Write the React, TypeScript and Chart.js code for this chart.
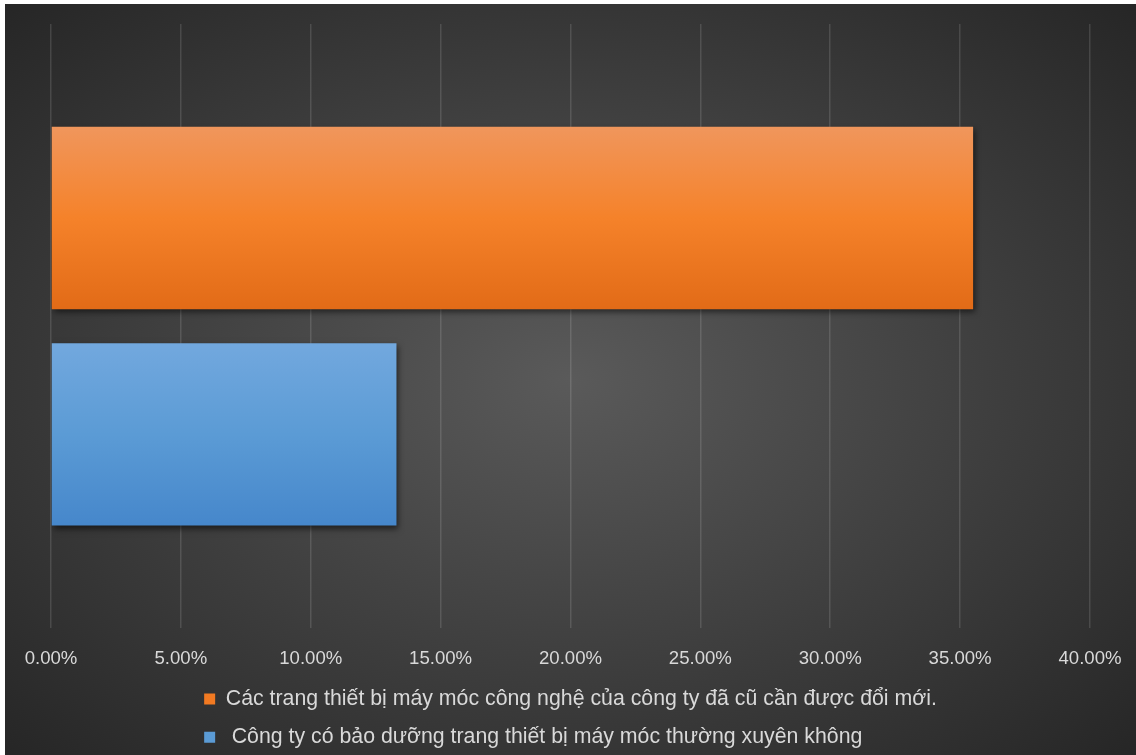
import React, { useEffect, useRef } from "react";
import { Chart, registerables } from "chart.js";

Chart.register(...registerables);

const categories = [""];
const seriesLabels = [
  "Các trang thiết bị máy móc công nghệ của công ty đã cũ cần được đổi mới.",
  " Công ty có bảo dưỡng trang thiết bị máy móc thường xuyên không",
];
const renewValues = [0.355];
const maintainValues = [0.133];
const tickValues = [0, 0.05, 0.1, 0.15, 0.2, 0.25, 0.3, 0.35, 0.4];
const legendColors = ["#f27a22", "#5b9bd5"];
const orangeStops = ["#f0965c", "#f5822a", "#e26b17"];
const blueStops = ["#72a8de", "#5b9bd5", "#4687cb"];

const CAT_PCT = 0.716;
const BAR_PCT = 0.843;

function barGradient(c: any, stops: string[]) {
  const chart = c.chart;
  const yScale = chart.scales && chart.scales.y;
  if (!chart.chartArea || !yScale || c.dataIndex === undefined) return stops[1];
  const center = yScale.getPixelForValue(c.dataIndex);
  const band = yScale.height / categories.length;
  const slot = (band * CAT_PCT) / 2;
  const barH = slot * BAR_PCT;
  const top = center - slot + c.datasetIndex * slot + (slot - barH) / 2;
  const g = chart.ctx.createLinearGradient(0, top, 0, top + barH);
  g.addColorStop(0, stops[0]);
  g.addColorStop(0.5, stops[1]);
  g.addColorStop(1, stops[2]);
  return g;
}

const shadowPlugin = {
  id: "barShadow",
  beforeDatasetsDraw(chart: any) {
    const ctx = chart.ctx;
    ctx.save();
    ctx.shadowColor = "rgba(0,0,0,0.55)";
    ctx.shadowBlur = 6;
    ctx.shadowOffsetX = 2;
    ctx.shadowOffsetY = 3;
  },
  afterDatasetsDraw(chart: any) {
    chart.ctx.restore();
  },
};

const legendAlignPlugin = {
  id: "legendAlign",
  beforeDraw(chart: any) {
    const lg = chart.legend;
    if (lg && lg.lineWidths && lg.lineWidths.length > 1) {
      const m = Math.max(...lg.lineWidths);
      lg.lineWidths = lg.lineWidths.map(() => m);
    }
  },
};

export default function App() {
  const ref = useRef<HTMLCanvasElement | null>(null);
  useEffect(() => {
    if (!ref.current) return;
    Chart.defaults.font.family = "'Liberation Sans', Arial, sans-serif";
    const chart = new Chart(ref.current, {
      type: "bar",
      data: {
        labels: categories,
        datasets: [
          {
            label: seriesLabels[0],
            data: renewValues,
            backgroundColor: (c: any) => barGradient(c, orangeStops),
            borderWidth: 0,
            categoryPercentage: CAT_PCT,
            barPercentage: BAR_PCT,
          },
          {
            label: seriesLabels[1],
            data: maintainValues,
            backgroundColor: (c: any) => barGradient(c, blueStops),
            borderWidth: 0,
            categoryPercentage: CAT_PCT,
            barPercentage: BAR_PCT,
          },
        ],
      },
      options: {
        indexAxis: "y",
        animation: false,
        responsive: true,
        maintainAspectRatio: false,
        layout: { padding: { left: 46, right: 46, top: 20, bottom: -3 } },
        scales: {
          x: {
            min: 0,
            max: 0.4,
            afterBuildTicks: (axis: any) => {
              axis.ticks = tickValues.map((v) => ({ value: v }));
            },
            afterFit: (axis: any) => {
              axis.height = 43;
              axis.paddingLeft = 30;
              axis.paddingRight = 30;
            },
            ticks: {
              color: "#d9d9d9",
              font: { size: 18.6 },
              padding: 19,
              callback: (v: any) => (Number(v) * 100).toFixed(2) + "%",
            },
            grid: {
              color: "rgba(255,255,255,0.13)",
              lineWidth: 1.5,
              drawTicks: false,
            },
            border: { display: false },
          },
          y: { display: false },
        },
        plugins: {
          tooltip: { enabled: false },
          legend: {
            position: "bottom",
            labels: {
              color: "#d9d9d9",
              font: { size: 21.3 },
              boxWidth: 11,
              boxHeight: 11,
              padding: 17,
              generateLabels: () =>
                seriesLabels.map((t, i) => ({
                  text: t,
                  fillStyle: legendColors[i],
                  strokeStyle: "transparent",
                  lineWidth: 0,
                  hidden: false,
                  datasetIndex: i,
                  fontColor: "#d9d9d9",
                })),
            },
          },
        },
      },
      plugins: [shadowPlugin, legendAlignPlugin],
    } as any);
    return () => chart.destroy();
  }, []);

  return (
    <div
      style={{
        position: "fixed",
        left: 5,
        top: 4,
        width: 1131,
        height: 751,
        background:
          "radial-gradient(ellipse farthest-corner at 50% 50%, #5a5a5a 0%, #404040 50%, #262626 100%)",
      }}
    >
      <canvas ref={ref} />
    </div>
  );
}
